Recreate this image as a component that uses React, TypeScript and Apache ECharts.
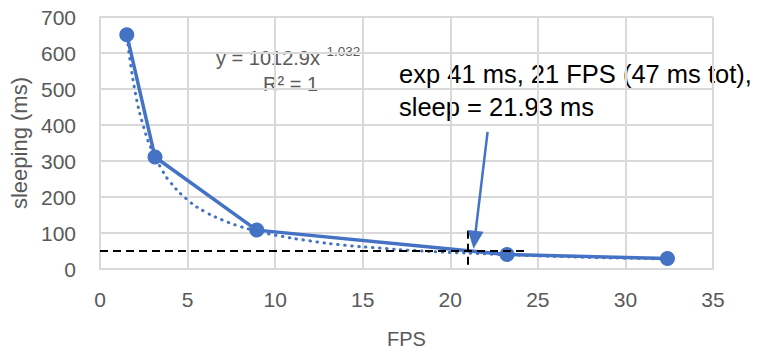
import React, { useEffect, useRef } from "react";
import * as echarts from "echarts";

const fps = [1.53, 3.14, 8.95, 23.24, 32.4];
const sleepMs = [651, 311, 108, 40, 29];
const trendFps = [1.6, 2, 2.5, 3, 3.5, 4, 5, 6, 7, 8, 9, 10, 12, 14, 16, 18, 20, 22, 24, 26, 28, 30, 32.4];
const trendSleep = [623, 494, 393, 326, 279, 242, 192, 159, 136, 118, 105, 94, 78, 66, 58, 51, 46, 42, 38, 35, 32, 30, 28];
const xTicks = [0, 5, 10, 15, 20, 25, 30, 35];
const yTicks = [0, 100, 200, 300, 400, 500, 600, 700];
const targetSleep = 50;
const targetFps = 21;
const hLineEndFps = 24.4;
const vLineRange = [12, 108];
const arrowFrom = [22.13, 381];
const arrowTo = [21.39, 81];
const equationText = "y = 1012.9x";
const equationExp = "-1.032";
const r2Text = "R² = 1";
const noteLines = ["exp 41 ms, 21 FPS (47 ms tot),", "sleep = 21.93 ms"];

const BLUE = "#4472C4";
const GRID = "#D9D9D9";
const TXT = "#595959";
const FONT = "'Liberation Sans', 'Noto Sans', sans-serif";

export default function App() {
  const ref = useRef<HTMLDivElement>(null);
  useEffect(() => {
    document.body.style.margin = "0";
    const chart = echarts.init(ref.current!, null, { renderer: "svg" });
    const option: any = {
      animation: false,
      backgroundColor: "#fff",
      grid: { left: 100, right: 51, top: 17, bottom: 81, containLabel: false },
      xAxis: {
        type: "value",
        min: xTicks[0],
        max: xTicks[xTicks.length - 1],
        interval: 5,
        name: "FPS",
        nameLocation: "middle",
        nameGap: 60,
        nameTextStyle: { color: TXT, fontSize: 20, fontFamily: FONT },
        axisLine: { show: true, lineStyle: { color: GRID, width: 2 } },
        axisTick: { show: false },
        axisLabel: { color: TXT, fontSize: 21, fontFamily: FONT, margin: 20 },
        splitLine: { show: true, lineStyle: { color: GRID, width: 2 } },
      },
      yAxis: {
        type: "value",
        min: yTicks[0],
        max: yTicks[yTicks.length - 1],
        interval: 100,
        name: "sleeping (ms)",
        nameLocation: "middle",
        nameGap: 69,
        nameTextStyle: { color: TXT, fontSize: 22, fontFamily: FONT },
        axisLine: { show: true, lineStyle: { color: GRID, width: 2 } },
        axisTick: { show: false },
        axisLabel: { color: TXT, fontSize: 21, fontFamily: FONT, margin: 24 },
        splitLine: { show: true, lineStyle: { color: GRID, width: 2 } },
      },
      series: [
        {
          type: "line",
          data: trendFps.map((x, i) => [x, trendSleep[i]]),
          smooth: true,
          showSymbol: false,
          symbol: "none",
          lineStyle: { color: BLUE, width: 3, type: [0.5, 6.5], cap: "round" },
          z: 2,
        },
        {
          type: "line",
          data: fps.map((x, i) => [x, sleepMs[i]]),
          symbol: "circle",
          symbolSize: 15,
          itemStyle: { color: BLUE },
          lineStyle: { color: BLUE, width: 3.5 },
          z: 3,
          markLine: {
            silent: true,
            symbol: ["none", "none"],
            label: { show: false },
            lineStyle: { color: "#000", width: 2, type: [8, 5] },
            data: [
              [{ coord: [0, targetSleep] }, { coord: [hLineEndFps, targetSleep] }],
              [{ coord: [targetFps, vLineRange[0]] }, { coord: [targetFps, vLineRange[1]] }],
            ],
          },
        },
        {
          type: "line",
          data: [],
          markLine: {
            silent: true,
            symbol: ["none", "triangle"],
            symbolSize: [16, 18],
            label: { show: false },
            lineStyle: { color: BLUE, width: 2.5, type: "solid" },
            itemStyle: { color: BLUE },
            data: [[{ coord: arrowFrom }, { coord: arrowTo }]],
          },
        },
      ],
      graphic: [
        {
          type: "text",
          x: 216,
          y: 57.5,
          style: {
            text: equationText,
            fill: TXT,
            font: `20px ${FONT}`,
            verticalAlign: "middle",
            align: "left",
          },
        },
        {
          type: "text",
          x: 322,
          y: 51.5,
          style: {
            text: equationExp,
            fill: TXT,
            font: `13.5px ${FONT}`,
            verticalAlign: "middle",
            align: "left",
          },
        },
        {
          type: "text",
          x: 263,
          y: 84,
          style: {
            text: r2Text,
            fill: TXT,
            font: `20px ${FONT}`,
            verticalAlign: "middle",
            align: "left",
          },
        },
        {
          type: "text",
          x: 399,
          y: 73.5,
          style: {
            text: noteLines[0],
            fill: "#000",
            font: `25.5px ${FONT}`,
            verticalAlign: "middle",
            align: "left",
          },
        },
        {
          type: "text",
          x: 399,
          y: 106.5,
          style: {
            text: noteLines[1],
            fill: "#000",
            font: `25.5px ${FONT}`,
            verticalAlign: "middle",
            align: "left",
          },
        },
      ],
    };
    chart.setOption(option);
    return () => chart.dispose();
  }, []);
  return <div ref={ref} style={{ width: 764, height: 354 }} />;
}
